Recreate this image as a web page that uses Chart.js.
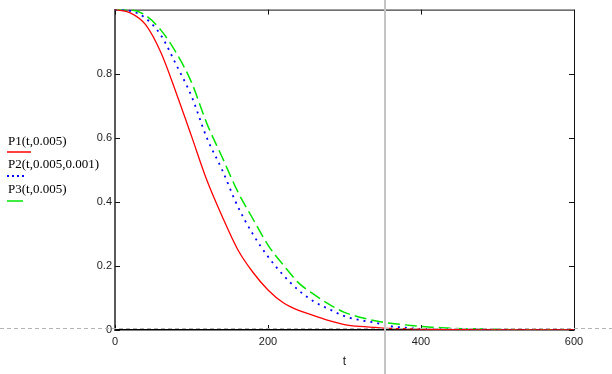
<!DOCTYPE html>
<html>
<head>
<meta charset="utf-8">
<script src="https://cdn.jsdelivr.net/npm/chart.js@4.4.0/dist/chart.umd.min.js"></script>
<style>
html,body{margin:0;padding:0;background:#fff;}
canvas{display:block;}
</style>
</head>
<body>
<canvas id="c" width="612" height="374"></canvas>
<script>
// ---- data ----
const tValues = [0,20,40,60,80,100,120,140,160,180,200,220,240,260,280,300,320,340,360,380,400,420,440,460,480,500,520,540,560,580,600];
const p1Values = [1.0,0.99,0.953,0.866,0.74,0.605,0.468,0.355,0.253,0.181,0.125,0.085,0.061,0.045,0.029,0.017,0.011,0.008,0.005,0.004,0.003,0.002,0.001,0.001,0,0,0,0,0,0,0];
const p2Values = [1.0,0.996,0.973,0.92,0.828,0.73,0.60,0.50,0.388,0.30,0.229,0.171,0.124,0.089,0.065,0.043,0.031,0.023,0.012,0.007,0.003,0.002,0.001,0.001,0.001,0,0,0,0,0,0];
const p3Values = [1.0,0.999,0.982,0.936,0.865,0.773,0.645,0.54,0.434,0.348,0.265,0.203,0.147,0.111,0.080,0.055,0.040,0.029,0.021,0.016,0.011,0.008,0.005,0.004,0.003,0.002,0.001,0.001,0.001,0,0];
const seriesLabels = ['P1(t,0.005)','P2(t,0.005,0.001)','P3(t,0.005)'];
const xTickValues = [0,200,400,600];
const yTickValues = [0,0.2,0.4,0.6,0.8];
const xAxisTitle = 't';
const markerT = 353;
const markerY = 0;

// ---- styles ----
const seriesStyles = [
  {color:'#ff0000', width:1.3, dash:[]},
  {color:'#0000ff', width:1.8, dash:[2,5]},
  {color:'#00e600', width:1.5, dash:[12,5]}
];
const legendLayout = {x:8, textY:[142,165,190], lineY:[152,176,201], lineLen:[24,20,16]};

const toPoints = vals => tValues.map((t,i)=>({x:t, y:vals[i]}));
const allSeries = [p1Values,p2Values,p3Values];

const datasets = allSeries.map((vals,i)=>({
  label: seriesLabels[i],
  data: toPoints(vals),
  borderColor: seriesStyles[i].color,
  borderWidth: seriesStyles[i].width,
  borderDash: seriesStyles[i].dash,
  pointRadius: 0,
  fill: false,
  cubicInterpolationMode: 'monotone'
}));

const tickFont = {family:"'Liberation Sans', Arial, sans-serif", size:11};

const framePlugin = {
  id:'frame',
  beforeDatasetsDraw(chart){
    const {ctx, chartArea:a, scales:{x,y}} = chart;
    ctx.save();
    ctx.strokeStyle = '#111';
    ctx.lineWidth = 1;
    ctx.beginPath();
    ctx.moveTo(a.left, a.top+0.5); ctx.lineTo(a.right+0.5, a.top+0.5);
    ctx.lineTo(a.right+0.5, a.bottom);
    ctx.stroke();
    // inner ticks
    ctx.beginPath();
    y.ticks.forEach(tk=>{
      const py = Math.round(y.getPixelForValue(tk.value))+0.5;
      ctx.moveTo(a.left, py); ctx.lineTo(a.left+5, py);
      ctx.moveTo(a.right, py); ctx.lineTo(a.right-5, py);
    });
    x.ticks.forEach(tk=>{
      const px = Math.round(x.getPixelForValue(tk.value))+0.5;
      ctx.moveTo(px, a.bottom); ctx.lineTo(px, a.bottom-5);
      ctx.moveTo(px, a.top); ctx.lineTo(px, a.top+5);
    });
    ctx.stroke();
    ctx.restore();
  },
  afterDraw(chart){
    const {ctx, scales:{x,y}} = chart;
    ctx.save();
    // markers
    const my = Math.round(y.getPixelForValue(markerY)) - 1.5;
    ctx.strokeStyle = '#b4b4b4';
    ctx.lineWidth = 1;
    ctx.setLineDash([4,3]);
    ctx.beginPath(); ctx.moveTo(0,my); ctx.lineTo(chart.width,my); ctx.stroke();
    ctx.setLineDash([]);
    const mx = Math.round(x.getPixelForValue(markerT));
    ctx.strokeStyle = '#c4c4c4';
    ctx.lineWidth = 2;
    ctx.beginPath(); ctx.moveTo(mx,0); ctx.lineTo(mx,chart.height); ctx.stroke();
    // legend
    ctx.font = "13px 'Liberation Serif', 'Times New Roman', serif";
    ctx.fillStyle = '#000';
    ctx.textBaseline = 'middle';
    ctx.textAlign = 'left';
    chart.data.datasets.forEach((ds,i)=>{
      ctx.fillText(ds.label, legendLayout.x, legendLayout.textY[i]);
      ctx.strokeStyle = ds.borderColor;
      ctx.lineWidth = i===1 ? 2 : 1.5;
      ctx.setLineDash(i===1 ? [2,3] : []);
      ctx.beginPath();
      ctx.moveTo(legendLayout.x-1, legendLayout.lineY[i]);
      ctx.lineTo(legendLayout.x-1+legendLayout.lineLen[i], legendLayout.lineY[i]);
      ctx.stroke();
      ctx.setLineDash([]);
    });
    ctx.restore();
  }
};

new Chart(document.getElementById('c'), {
  type:'line',
  data:{datasets},
  options:{
    responsive:false,
    animation:false,
    devicePixelRatio:1,
    layout:{padding:{left:0,right:38,top:9,bottom:0}},
    plugins:{legend:{display:false}, tooltip:{enabled:false}},
    scales:{
      x:{
        type:'linear', min:0, max:600, position:'bottom',
        grid:{display:false, drawTicks:false, tickLength:0},
        border:{display:true, color:'#000', width:1.5},
        afterBuildTicks: s => { s.ticks = xTickValues.map(v=>({value:v})); },
        afterFit: s => { s.height = 44; },
        ticks:{font:tickFont, color:'#222', padding:5, maxRotation:0, autoSkip:false,
          callback: v => String(v)},
        title:{display:true, text:xAxisTitle, color:'#222',
          font:{family:"'Liberation Sans', Arial, sans-serif", size:12},
          padding:{top:0,bottom:5}}
      },
      y:{
        type:'linear', min:0, max:1,
        grid:{display:false, drawTicks:false, tickLength:0},
        border:{display:true, color:'#5a5a5a', width:2},
        afterBuildTicks: s => { s.ticks = yTickValues.map(v=>({value:v})); },
        afterFit: s => { s.width = 115; },
        ticks:{font:tickFont, color:'#222', padding:3, callback: v => String(v)}
      }
    }
  },
  plugins:[framePlugin]
});
</script>
</body>
</html>
